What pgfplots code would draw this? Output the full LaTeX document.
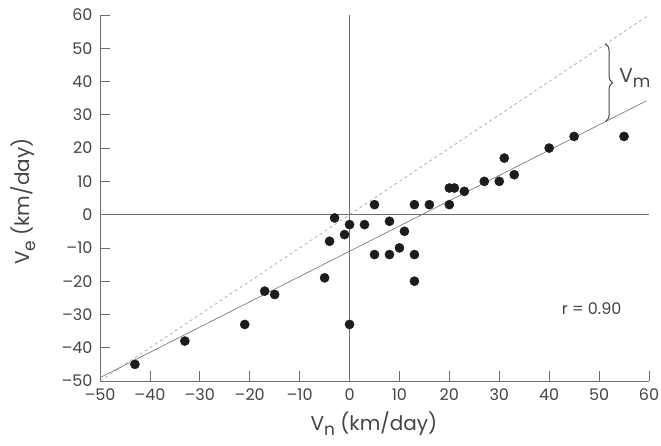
\documentclass[border=0pt]{standalone}
\usepackage{fontspec}
\setmainfont{Poppins}
\usepackage{pgfplots}
\pgfplotsset{compat=1.18}
\usepackage{pgfplotstable}
\usetikzlibrary{decorations.pathreplacing}
\definecolor{ink}{HTML}{444444}
\definecolor{axgray}{HTML}{6E6E6E}
\definecolor{dot}{HTML}{1C1C1C}

% V_n, V_e in km/day
\pgfplotstableread{
vn ve
-43 -45
-33 -38
-21 -33
-17 -23
-15 -24
-5 -19
-4 -8
-3 -1
-1 -6
0 -3
0 -33
3 -3
5 3
5 -12
8 -2
8 -12
10 -10
11 -5
13 3
13 -12
13 -20
16 3
20 3
20 8
21 8
23 7
27 10
30 10
31 17
33 12
40 20
45 23.5
55 23.5
}\obs

\begin{document}
\begin{tikzpicture}
\path[use as bounding box] (-100pt,-64pt) rectangle (561pt,381pt);
\begin{axis}[
  at={(0,0)}, anchor=south west,
  scale only axis, width=549pt, height=366pt,
  xmin=-50, xmax=60, ymin=-50, ymax=60,
  axis x line*=bottom, axis y line*=left,
  axis line style={axgray, line width=0.8pt, -},
  xtick={-50,-40,...,60}, ytick={-50,-40,...,60},
  xticklabels={–50,–40,–30,–20,–10,0,10,20,30,40,50,60},
  yticklabels={–50,–40,–30,–20,–10,0,10,20,30,40,50,60},
  major tick length=10pt,
  tick style={axgray, line width=0.8pt},
  ticklabel style={font=\fontsize{16}{16}\selectfont, text=ink},
  xticklabel style={yshift=-4pt},
  yticklabel style={xshift=-4pt},
  xlabel={V\raisebox{-0.5ex}{\fontsize{17}{17}\selectfont n} (km/day)},
  ylabel={V\raisebox{-0.5ex}{\fontsize{17}{17}\selectfont e} (km/day)},
  label style={font=\fontsize{20}{20}\selectfont, text=ink},
  xlabel style={at={(axis description cs:0.499,-0.116)}, anchor=center},
  ylabel style={at={(axis description cs:-0.14,0.49)}, anchor=center},
  clip=false,
]
\addplot[axgray, line width=0.7pt] coordinates {(0,-50) (0,60)};
\addplot[axgray, line width=0.7pt] coordinates {(-50,0) (60,0)};
\addplot[gray!75, line width=0.6pt, dash pattern=on 3pt off 3pt] coordinates {(-50,-50) (60,60)};
\addplot[axgray, line width=0.6pt] coordinates {(-50,-49) (59.5,34.2)};
\addplot[only marks, mark=*, mark size=4.6pt, dot] table[x=vn, y=ve] {\obs};
\draw[ink, line width=1pt, decorate, decoration={brace, amplitude=7pt}]
  (axis cs:51.3,51.3) -- (axis cs:51.3,28);
\node[anchor=west, font=\fontsize{20}{20}\selectfont, text=ink, inner sep=0pt]
  at (axis cs:54,41) {V\raisebox{-0.5ex}{\fontsize{17}{17}\selectfont m}};
\node[font=\fontsize{16}{16}\selectfont, text=ink] at (axis cs:48.5,-28.2) {r = 0.90};
\end{axis}
\end{tikzpicture}
\end{document}
